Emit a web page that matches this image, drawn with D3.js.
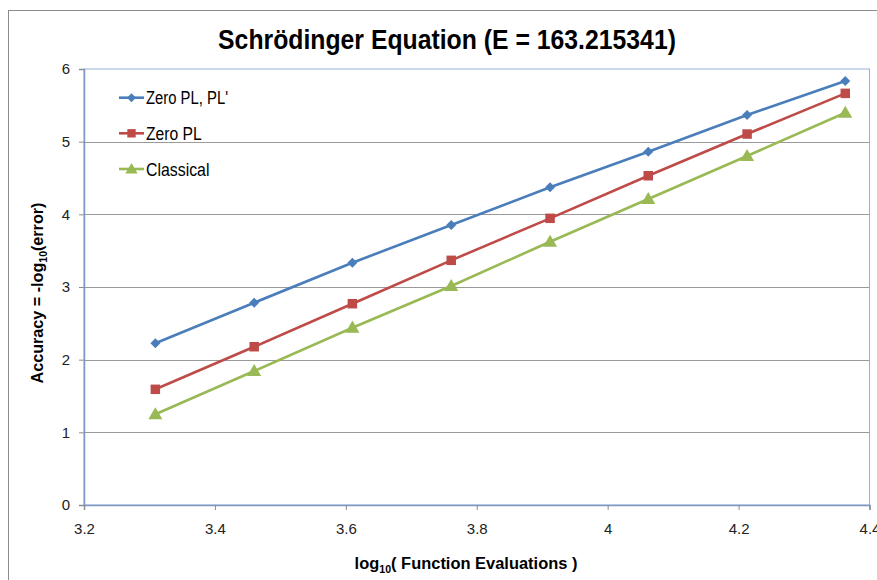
<!DOCTYPE html>
<html><head><meta charset="utf-8">
<script src="https://cdn.jsdelivr.net/npm/d3@7"></script>
<style>body{margin:0;background:#fff}svg{display:block}text{font-family:"Liberation Sans",Arial,sans-serif}</style>
</head><body>
<svg id="c" width="877" height="580"></svg>
<script>
const xValues = [3.309, 3.460, 3.610, 3.761, 3.912, 4.062, 4.213, 4.363];
const seriesNames = ["Zero PL, PL'", "Zero PL", "Classical"];
const zeroPLPLp = [2.225, 2.784, 3.334, 3.853, 4.372, 4.862, 5.367, 5.835];
const zeroPL = [1.592, 2.178, 2.770, 3.367, 3.945, 4.531, 5.105, 5.665];
const classical = [1.248, 1.844, 2.440, 3.014, 3.623, 4.211, 4.803, 5.398];
const xTicks = [3.2, 3.4, 3.6, 3.8, 4, 4.2, 4.4];
const yTicks = [0, 1, 2, 3, 4, 5, 6];
const colors = ["#4a7ebb", "#be4b48", "#98b954"];
const markers = [d3.symbolSquare, d3.symbolSquare, d3.symbolTriangle];
const markerRot = [45, 0, 0];

const svg = d3.select("#c");
const L = 84, R = 869.5, T = 69, B = 505;
const x = d3.scaleLinear().domain([3.2, 4.4]).range([L, R]);
const y = d3.scaleLinear().domain([0, 6]).range([B, T]);

// squeeze a text horizontally (Calibri-like narrow look) to a target width
function fit(sel, w, tx, ty, rot) {
  const len = sel.node().getBBox().width || w;
  const s = w / len;
  sel.attr("transform", `translate(${tx},${ty})` + (rot ? ` rotate(${rot})` : "") + ` scale(${s},1)`);
}

svg.append("rect").attr("x", 8.5).attr("y", 10.5).attr("width", 900).attr("height", 600)
  .attr("fill", "#fff").attr("stroke", "#8c8c8c").attr("stroke-width", 1);

// gridlines
svg.append("g").selectAll("line").data(yTicks.filter(d => d > 0 && d < 6)).join("line")
  .attr("x1", L).attr("x2", R).attr("y1", d => Math.round(y(d)) + 0.5).attr("y2", d => Math.round(y(d)) + 0.5)
  .attr("stroke", "#9a9a9a").attr("stroke-width", 1.2);

// plot border
svg.append("rect").attr("x", L).attr("y", T).attr("width", R - L).attr("height", B - T)
  .attr("fill", "none").attr("stroke", "#95b0d8").attr("stroke-width", 1);

// axes
const yAxis = svg.append("g").attr("transform", `translate(${L},0)`)
  .call(d3.axisLeft(y).tickValues(yTicks).tickSize(5).tickPadding(9).tickFormat(d3.format("d")));
const xAxis = svg.append("g").attr("transform", `translate(0,${B})`)
  .call(d3.axisBottom(x).tickValues(xTicks).tickSize(5).tickPadding(13).tickFormat(d => d === 4 ? "4" : d3.format(".1f")(d)));
[yAxis, xAxis].forEach(a => {
  a.select(".domain").attr("stroke", "#7f97c2").attr("stroke-width", 1.5);
  a.selectAll(".tick line").attr("stroke", "#8c8c8c");
  a.selectAll(".tick text").attr("font-size", 15).attr("fill", "#222")
    .style("font-family", '"Liberation Sans",Arial,sans-serif');
});

// series
const allSeries = [zeroPLPLp, zeroPL, classical];
const line = d3.line().x((d, i) => x(xValues[i])).y(d => y(d));
allSeries.forEach((s, k) => {
  svg.append("path").datum(s).attr("d", line).attr("fill", "none")
    .attr("stroke", colors[k]).attr("stroke-width", 2.6);
  const sz = [50, 90, 85][k];
  svg.append("g").selectAll("path").data(s).join("path")
    .attr("transform", (d, i) => `translate(${x(xValues[i])},${y(d) + (k === 2 ? 1 : 0)}) rotate(${markerRot[k]})`)
    .attr("d", d3.symbol().type(markers[k]).size(sz))
    .attr("fill", colors[k]);
});

// legend
const legY = [97.7, 133.3, 169];
const legW = [82, 56, 63.5];
seriesNames.forEach((n, k) => {
  const g = svg.append("g");
  g.append("line").attr("x1", 119).attr("x2", 144).attr("y1", legY[k]).attr("y2", legY[k])
    .attr("stroke", colors[k]).attr("stroke-width", 2.6);
  g.append("path").attr("transform", `translate(131.5,${legY[k] + (k === 2 ? 1 : 0)}) rotate(${markerRot[k]})`)
    .attr("d", d3.symbol().type(markers[k]).size([40, 70, 65][k])).attr("fill", colors[k]);
  const t = g.append("text").attr("x", 0).attr("y", 0).attr("font-size", 17.5).attr("fill", "#000").text(n);
  fit(t, legW[k], 146, legY[k] + 6.5);
});

// title
const title = svg.append("text").attr("x", 0).attr("y", 0).attr("text-anchor", "middle")
  .attr("font-size", 27).attr("font-weight", "bold").attr("fill", "#000")
  .text("Schrödinger Equation (E = 163.215341)");
fit(title, 458, 447, 49);

// x title
const xt = svg.append("text").attr("x", 0).attr("y", 0).attr("text-anchor", "middle")
  .attr("font-size", 17).attr("font-weight", "bold").attr("fill", "#000");
xt.append("tspan").text("log");
xt.append("tspan").attr("font-size", 11).attr("dy", 4).text("10");
xt.append("tspan").attr("dy", -4).text("( Function Evaluations )");
fit(xt, 223, 466, 569);

// y title
const yt = svg.append("text").attr("x", 0).attr("y", 0).attr("text-anchor", "middle")
  .attr("font-size", 17).attr("font-weight", "bold").attr("fill", "#000");
yt.append("tspan").text("Accuracy = -log");
yt.append("tspan").attr("font-size", 11).attr("dy", 4).text("10");
yt.append("tspan").attr("dy", -4).text("(error)");
fit(yt, 181, 43, 293, -90);
</script>
</body></html>
